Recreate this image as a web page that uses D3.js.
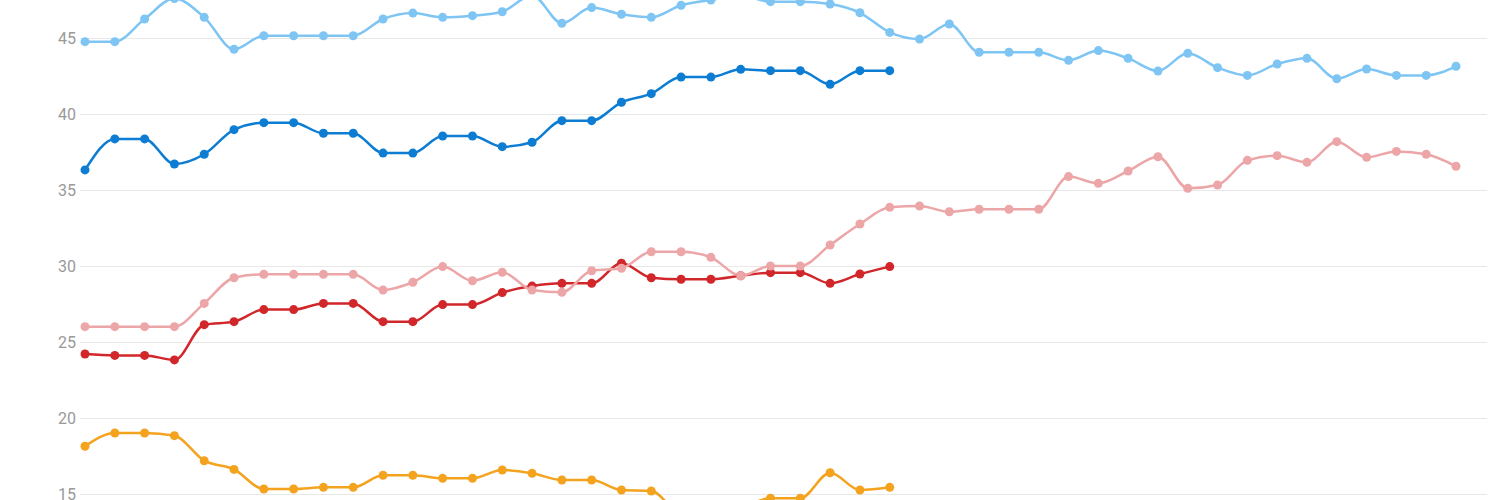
<!DOCTYPE html>
<html>
<head>
<meta charset="utf-8">
<script src="https://cdn.jsdelivr.net/npm/d3@7"></script>
<style>
  body { margin: 0; background: #fff; }
  svg { display: block; }
</style>
</head>
<body>
<svg width="1500" height="500"></svg>
<script>
// poll series
let lightBlue = [44.76, 44.76, 46.25, 47.6, 46.36, 44.26, 45.15, 45.15, 45.15, 45.15,
  46.25, 46.64, 46.36, 46.47, 46.73, 47.8, 45.97, 47.0, 46.56, 46.36,
  47.15, 47.5, 47.8, 47.39, 47.39, 47.24, 46.66, 45.37, 44.93, 45.92,
  44.06, 44.06, 44.06, 43.53, 44.17, 43.66, 42.83, 43.99, 43.05, 42.54,
  43.29, 43.66, 42.32, 42.96, 42.54, 42.54, 43.14];
let darkBlue = [36.32, 38.36, 38.36, 36.71, 37.35, 38.97, 39.43, 39.43, 38.73, 38.73,
  37.43, 37.43, 38.55, 38.55, 37.85, 38.14, 39.56, 39.56, 40.77, 41.34,
  42.43, 42.43, 42.94, 42.85, 42.85, 41.95, 42.85, 42.85];
let pink = [26.01, 26.01, 26.01, 26.01, 27.54, 29.23, 29.45, 29.45, 29.45, 29.45,
  28.42, 28.93, 29.96, 29.03, 29.59, 28.42, 28.27, 29.69, 29.85, 30.94,
  30.94, 30.57, 29.36, 30.0, 30.0, 31.38, 32.76, 33.86, 33.95, 33.57,
  33.73, 33.73, 33.73, 35.88, 35.44, 36.25, 37.19, 35.11, 35.33, 36.95,
  37.26, 36.82, 38.18, 37.15, 37.54, 37.35, 36.56];
let red = [24.21, 24.12, 24.12, 23.82, 26.14, 26.34, 27.13, 27.13, 27.54, 27.54,
  26.34, 26.34, 27.46, 27.46, 28.25, 28.68, 28.86, 28.86, 30.18, 29.23,
  29.13, 29.13, 29.36, 29.56, 29.56, 28.86, 29.47, 29.96];
let orange = [18.14, 19.01, 19.01, 18.84, 17.19, 16.62, 15.33, 15.33, 15.44, 15.44,
  16.23, 16.23, 16.03, 16.03, 16.58, 16.36, 15.92, 15.92, 15.26, 15.2,
  13.7, 13.6, 14.1, 14.72, 14.72, 16.4, 15.26, 15.44];
let yTicks = [15, 20, 25, 30, 35, 40, 45];

let svg = d3.select("svg");

let xScale = d3.scalePoint().domain(d3.range(lightBlue.length)).range([85, 1456]);
let yScale = d3.scaleLinear().domain([15, 45]).range([494, 38]);

// grid
let yAxis = d3.axisLeft(yScale).tickValues(yTicks).tickSize(-1407).tickPadding(4);
let gAxis = svg.append("g")
  .attr("transform", "translate(80,0)")
  .call(yAxis);
gAxis.select(".domain").remove();
gAxis.selectAll(".tick line").attr("stroke", "#e8e8e8").attr("stroke-width", 1);
gAxis.selectAll(".tick text")
  .attr("fill", "#999")
  .attr("font-family", "Roboto, 'Liberation Sans', sans-serif")
  .attr("font-size", 16);

let series = [
  {values: orange, color: "#f4a31e"},
  {values: red, color: "#d1262a"},
  {values: pink, color: "#eca6a8"},
  {values: darkBlue, color: "#0c7dd2"},
  {values: lightBlue, color: "#7ec5f3"}
];

let line = d3.line()
  .x((d, i) => xScale(i))
  .y(d => yScale(d))
  .curve(d3.curveMonotoneX);

series.forEach(s => {
  svg.append("path")
    .datum(s.values)
    .attr("fill", "none")
    .attr("stroke", s.color)
    .attr("stroke-width", 2.5)
    .attr("d", line);
});

series.forEach(s => {
  svg.append("g").selectAll("circle")
    .data(s.values)
    .join("circle")
    .attr("cx", (d, i) => xScale(i))
    .attr("cy", d => yScale(d))
    .attr("r", 4.5)
    .attr("fill", s.color);
});
</script>
</body>
</html>
